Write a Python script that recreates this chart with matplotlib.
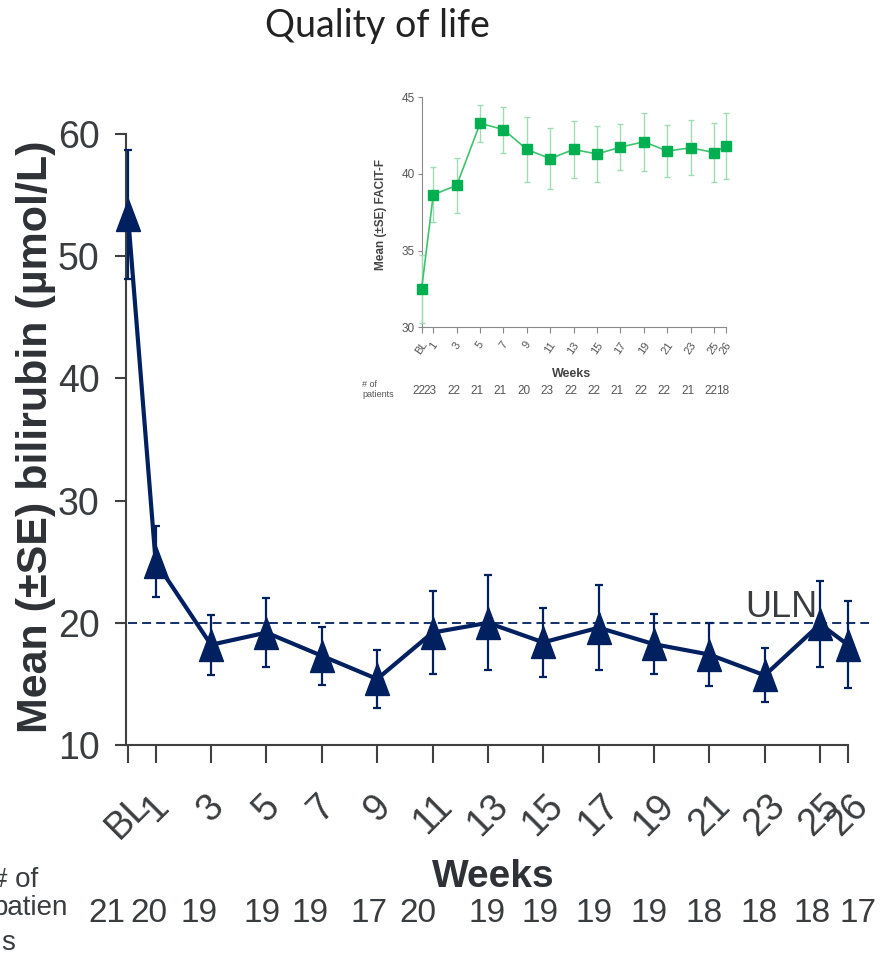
import matplotlib
matplotlib.use('Agg')
import matplotlib.pyplot as plt
import matplotlib.transforms as mtransforms
from matplotlib.path import Path

plt.rcParams['font.family'] = ['Liberation Sans', 'DejaVu Sans']

# data
weeks = [0, 1, 3, 5, 7, 9, 11, 13, 15, 17, 19, 21, 23, 25, 26]
week_labels = ['BL', '1', '3', '5', '7', '9', '11', '13', '15', '17', '19', '21', '23', '25', '26']

bili_mean = [53.4, 25.0, 18.2, 19.2, 17.3, 15.4, 19.2, 20.0, 18.4, 19.6, 18.25, 17.4, 15.7, 19.9, 18.2]
bili_se = [5.3, 2.9, 2.45, 2.8, 2.35, 2.4, 3.4, 3.9, 2.85, 3.5, 2.45, 2.55, 2.2, 3.5, 3.55]
bili_patients = [21, 20, 19, 19, 19, 17, 20, 19, 19, 19, 19, 18, 18, 18, 17]
uln = 20

facit_mean = [32.5, 38.65, 39.25, 43.3, 42.9, 41.6, 41.0, 41.6, 41.3, 41.75, 42.1, 41.5, 41.7, 41.4, 41.8]
facit_se = [2.2, 1.8, 1.8, 1.2, 1.5, 2.1, 2.0, 1.85, 1.8, 1.5, 1.9, 1.7, 1.8, 1.9, 2.15]
facit_patients = [22, 23, 22, 21, 21, 20, 23, 22, 22, 21, 22, 22, 21, 22, 18]

# the patient count row is hand-placed in the original: pixel nudges from the ticks
count_dx = [-21, -7, -12, -4, -12, -8, -15, -1, -3, -5, -5, -5, -6, -8, 10]

W, H = 892, 959
navy = '#002060'
green = '#00b050'
text_col = '#3a3d40'

fig = plt.figure(figsize=(W / 100, H / 100), dpi=100)

# tall triangle marker
tri = Path([(0, 1), (-0.75, -1), (0.75, -1), (0, 1)],
           [Path.MOVETO, Path.LINETO, Path.LINETO, Path.CLOSEPOLY])

# ---- main chart: bilirubin
ax = fig.add_axes([126 / W, 1 - 745 / H, 744 / W, 611 / H])
ax.set_xlim(-0.07, 26.8)
ax.set_ylim(10, 60)

ax.hlines(uln, 0, 26.75, colors=navy, linestyles=(0, (5, 2.8)), linewidth=1.3)
ax.text(24.9, uln + 0.45, 'ULN', ha='right', va='baseline', fontsize=26, color=text_col)

eb = ax.errorbar(weeks, bili_mean, yerr=bili_se, color=navy, linewidth=3,
                 marker=tri, markersize=23, ecolor=navy, elinewidth=1.6,
                 capsize=3.2, capthick=1.6, zorder=3)
for art in [eb.lines[0], *eb.lines[1], *eb.lines[2]]:
    art.set_clip_on(False)

for s in ['top', 'right']:
    ax.spines[s].set_visible(False)
for s in ['left', 'bottom']:
    ax.spines[s].set_color('#404040')
    ax.spines[s].set_linewidth(1.5)
ax.spines['bottom'].set_bounds(-0.07, 26)

ax.set_yticks([10, 20, 30, 40, 50, 60])
ax.tick_params(axis='y', labelsize=27, labelcolor=text_col, color='#404040',
               length=8, width=1.5, pad=11)
ax.set_xticks(weeks)
ax.set_xticklabels(week_labels, rotation=45)
ax.tick_params(axis='x', labelsize=27, labelcolor=text_col, color='#404040',
               length=13, width=1.5, pad=18)

fig.text(36 / W, 1 - 437 / H, 'Mean (±SE) bilirubin (µmol/L)', rotation=90,
         ha='center', va='center', fontsize=31, fontweight='bold', color='#2e3236')
fig.text(493 / W, 1 - 887 / H, 'Weeks', ha='center', va='baseline',
         fontsize=28, fontweight='bold', color='#2e3236')

# patient counts under the main chart
blend = mtransforms.blended_transform_factory(ax.transData, fig.transFigure)
for wk, n, dx in zip(weeks, bili_patients, count_dx):
    tr = mtransforms.offset_copy(blend, fig=fig, x=dx, y=0, units='dots')
    ax.text(wk, 1 - 922 / H, str(n), transform=tr, ha='center',
            va='baseline', fontsize=24, color=text_col, clip_on=False)
fig.text(-8 / W, 1 - 887 / H, '# of', ha='left', va='baseline', fontsize=20, color=text_col)
fig.text(-8 / W, 1 - 915 / H, 'patien', ha='left', va='baseline', fontsize=20, color=text_col)
fig.text(1 / W, 1 - 950 / H, 's', ha='left', va='baseline', fontsize=20, color=text_col)

# title
fig.text(377 / W, 1 - 37 / H, 'Quality of life', ha='center', va='baseline',
         fontsize=27, color='#222222', family=['Lato', 'DejaVu Sans'])

# ---- inset: FACIT-F
ax2 = fig.add_axes([421.6 / W, 1 - 327.3 / H, 304.1 / W, 230 / H])
ax2.set_xlim(0, 26)
ax2.set_ylim(30, 45)
eb2 = ax2.errorbar(weeks, facit_mean, yerr=facit_se, color='#3cc46e', linewidth=1.2,
                   marker='s', markersize=7, markerfacecolor=green, markeredgecolor=green,
                   ecolor='#9fdcb4', elinewidth=1.0, capsize=2, capthick=1.0, zorder=3)
for art in [eb2.lines[0], *eb2.lines[1], *eb2.lines[2]]:
    art.set_clip_on(False)

for s in ['top', 'right']:
    ax2.spines[s].set_visible(False)
for s in ['left', 'bottom']:
    ax2.spines[s].set_color('#8a8a8a')
    ax2.spines[s].set_linewidth(0.8)
ax2.set_yticks([30, 35, 40, 45])
ax2.tick_params(axis='y', labelsize=8.5, labelcolor='#555555', color='#8a8a8a',
                length=3, width=0.8, pad=2)
ax2.set_xticks(weeks)
ax2.set_xticklabels(week_labels, rotation=55)
ax2.tick_params(axis='x', labelsize=8, labelcolor='#555555', color='#8a8a8a',
                length=4, width=0.8, pad=5)

fig.text(381 / W, 1 - 214 / H, 'Mean (±SE) FACIT-F', rotation=90, ha='center',
         va='center', fontsize=8.5, fontweight='bold', color='#444444')
fig.text(572 / W, 1 - 377 / H, 'Weeks', ha='center', va='baseline',
         fontsize=9, fontweight='bold', color='#444444')
fig.text(362 / W, 1 - 380 / H, '# of\npatients', ha='left', va='top',
         fontsize=6.5, color='#555555', linespacing=1.1)

blend2 = mtransforms.blended_transform_factory(ax2.transData, fig.transFigure)
for wk, n in zip(weeks, facit_patients):
    tr2 = mtransforms.offset_copy(blend2, fig=fig, x=-3, y=0, units='dots')
    ax2.text(wk, 1 - 394 / H, str(n), transform=tr2, ha='center',
             va='baseline', fontsize=8.5, color='#555555', clip_on=False)

fig.savefig('out.png', dpi=100)
